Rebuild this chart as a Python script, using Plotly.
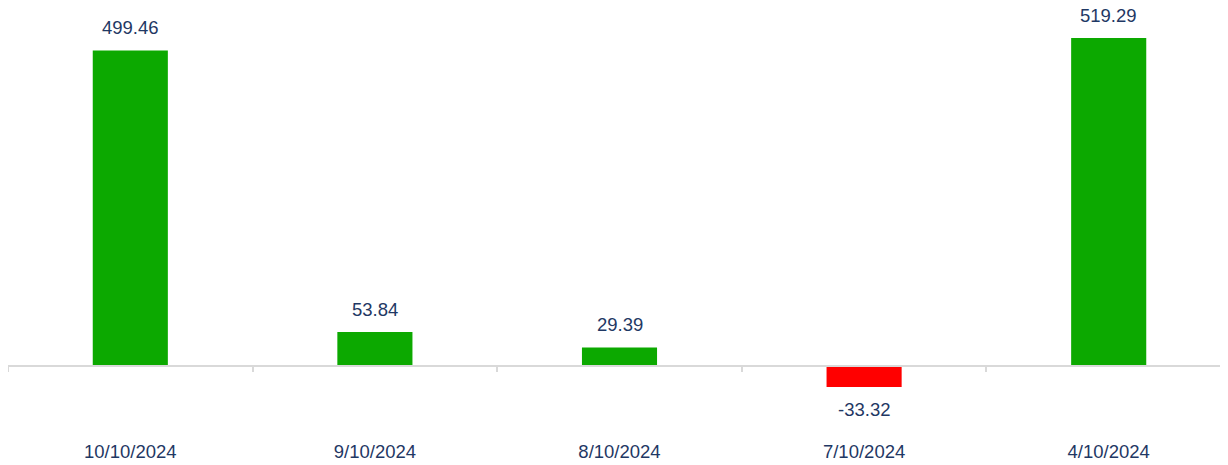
import plotly.graph_objects as go

categories = ["10/10/2024", "9/10/2024", "8/10/2024", "7/10/2024", "4/10/2024"]
values = [499.46, 53.84, 29.39, -33.32, 519.29]
labels = ["499.46", "53.84", "29.39", "-33.32", "519.29"]

GREEN = "#0CA900"
RED = "#FF0000"
TEXT = "#1F3864"
FONT = "Liberation Sans, Arial, sans-serif"

colors = [GREEN if v >= 0 else RED for v in values]
y_range = [-169.4, 566.8]
zero_pos = (0 - y_range[0]) / (y_range[1] - y_range[0])

fig = go.Figure()
fig.add_trace(go.Bar(
    x=categories, y=values, marker=dict(color=colors, line=dict(width=0)),
    width=0.307, hoverinfo="x+y",
))

for c, v, t in zip(categories, values, labels):
    fig.add_annotation(
        x=c, y=v, text=t, showarrow=False,
        yanchor="bottom" if v >= 0 else "top",
        yshift=10.5 if v >= 0 else -10,
        font=dict(family=FONT, size=18.5, color=TEXT),
    )

fig.update_layout(
    width=1228, height=465,
    margin=dict(l=0, r=5, t=0, b=0),
    paper_bgcolor="white", plot_bgcolor="white",
    showlegend=False,
    xaxis=dict(
        type="category", range=[-0.5, 4.5],
        anchor="free", position=zero_pos,
        showline=True, linecolor="#D9D9D9", linewidth=2,
        ticks="outside", tickson="boundaries", ticklen=5, tickcolor="#D9D9D9", tickwidth=1.5,
        ticklabelstandoff=69,
        tickfont=dict(family=FONT, size=18.5, color=TEXT),
        showgrid=False, zeroline=False,
    ),
    yaxis=dict(
        range=y_range, showgrid=False, zeroline=False,
        showticklabels=False, showline=False, ticks="",
    ),
)

fig.write_html("out.html", config={"displayModeBar": False})
